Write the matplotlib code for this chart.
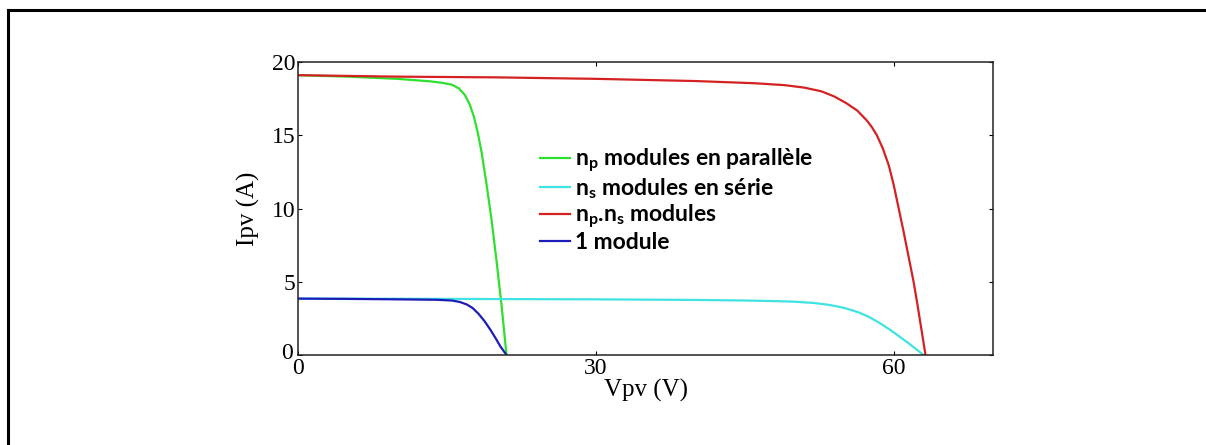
import matplotlib
matplotlib.use("Agg")
import matplotlib.pyplot as plt
import matplotlib.transforms as mtransforms
from matplotlib.lines import Line2D

# Data (V in volts, I in amperes)
v_one = [0, 5, 10, 14, 15.5, 16.3, 17.0, 17.6, 18.2, 18.8, 19.4, 19.9, 20.4, 21.0]
i_one = [3.85, 3.83, 3.8, 3.77, 3.72, 3.62, 3.45, 3.2, 2.8, 2.3, 1.7, 1.15, 0.57, 0.0]

v_par = [0, 5, 10, 13.3, 14.5, 15.5, 16.2, 16.8, 17.3, 17.7, 18.1, 18.5,
         19.0, 19.5, 20.0, 20.5, 21.0]
i_par = [19.1, 19.0, 18.85, 18.68, 18.58, 18.45, 18.2, 17.75, 17.1, 16.3, 15.2, 13.8,
         11.6, 9.2, 6.4, 3.4, 0.0]

v_ser = [0, 10, 20, 30, 40, 45, 48, 50, 52, 53.5, 55, 56.5, 57.5, 58.5, 59.5,
         60.5, 61.5, 62.3, 63.0]
i_ser = [3.85, 3.84, 3.82, 3.8, 3.76, 3.72, 3.68, 3.64, 3.55, 3.42, 3.22, 2.9,
         2.6, 2.22, 1.78, 1.3, 0.8, 0.38, 0.0]

v_all = [0, 10, 20, 30, 40, 46, 49, 51, 52.7, 54, 55.2, 56.3, 57.3, 57.8, 58.3,
         58.9, 59.5, 60.0, 60.5, 61.0, 61.5, 62.0, 62.4, 62.8, 63.2]
i_all = [19.1, 19.0, 18.95, 18.85, 18.7, 18.55, 18.42, 18.25, 18.0, 17.65, 17.2,
         16.7, 16.0, 15.55, 15.0, 14.1, 12.95, 11.6, 10.0, 8.4, 6.7, 5.0, 3.4, 1.7, 0.0]

labels = [r"n$_\mathregular{p}$ modules en parallèle",
          r"n$_\mathregular{s}$ modules en série",
          r"n$_\mathregular{p}$.n$_\mathregular{s}$ modules",
          "1 module"]

x_ticks = [0, 30, 60]
y_ticks = [0, 5, 10, 15, 20]

plt.rcParams['font.family'] = ['Liberation Serif', 'DejaVu Serif']

fig = plt.figure(figsize=(12.06, 4.45), dpi=100)
ax = fig.add_axes([0.2471, 0.2022, 0.5763, 0.6585])

ax.plot(v_par, i_par, color='#2ee02e', lw=1.6, label=labels[0])
ax.plot(v_ser, i_ser, color='#3fe3e3', lw=1.6, label=labels[1])
ax.plot(v_all, i_all, color='#d42222', lw=1.6, label=labels[2])
ax.plot(v_one, i_one, color='#1c1cb8', lw=1.6, label=labels[3])

ax.set_xlim(0, 70)
ax.set_ylim(0, 20)
ax.set_xticks(x_ticks)
ax.set_yticks(y_ticks)
ax.tick_params(direction='in', length=3, width=0.8, top=True, right=True,
               labelsize=17, pad=2)
for s in ax.spines.values():
    s.set_linewidth(1.1)
    s.set_color('#222222')

# nudge the y "0" up a bit so it doesn't sit on the x "0"
offset = mtransforms.ScaledTranslation(-2 / 72, 3 / 72, fig.dpi_scale_trans)
lbl0 = ax.get_yticklabels()[0]
lbl0.set_transform(lbl0.get_transform() + offset)

ax.set_xlabel("Vpv (V)", fontsize=18)
ax.xaxis.set_label_coords(0.5, -0.08)
ax.set_ylabel("Ipv (A)", fontsize=18)
ax.yaxis.set_label_coords(-0.055, 0.5)

leg = ax.legend(loc='upper left', bbox_to_anchor=(0.348, 0.71), frameon=False,
                prop={'family': 'Lato', 'weight': 'bold', 'size': 16.5},
                handlelength=1.3, handletextpad=0.22, labelspacing=0.06,
                borderpad=0, borderaxespad=0)

# outer frame (top and left edges only)
fig.add_artist(Line2D([0.0066, 1.0], [0.9775, 0.9775], color='black', lw=2.2,
                      transform=fig.transFigure))
fig.add_artist(Line2D([0.0066, 0.0066], [0.0, 0.9775], color='black', lw=2.2,
                      transform=fig.transFigure))

fig.savefig("out.png", dpi=100)
